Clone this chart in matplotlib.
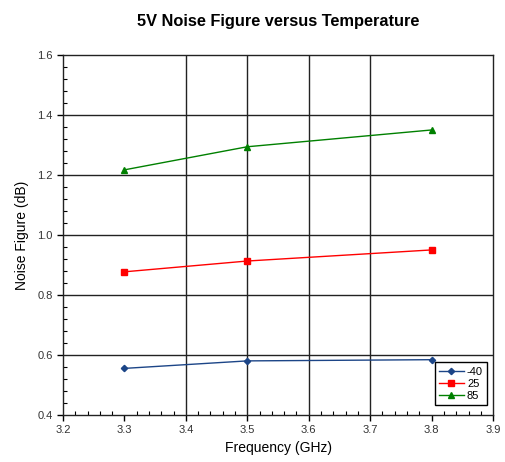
import matplotlib.pyplot as plt
from matplotlib.ticker import MultipleLocator

plt.rcParams['font.family'] = ['Liberation Sans', 'DejaVu Sans']

freq = [3.3, 3.5, 3.8]
nf_m40 = [0.555, 0.580, 0.584]
nf_25 = [0.877, 0.913, 0.950]
nf_85 = [1.217, 1.294, 1.350]
grid_x = [3.4, 3.5, 3.6, 3.7]
grid_y = [0.6, 0.8, 1.0, 1.2, 1.4]

fig = plt.figure(figsize=(5.06, 4.62), dpi=100)
ax = fig.add_axes([0.1245, 0.102, 0.850, 0.779])

for gx in grid_x:
    ax.axvline(gx, color='#222222', linewidth=1.0, zorder=1)
for gy in grid_y:
    ax.axhline(gy, color='#222222', linewidth=1.0, zorder=1)

ax.plot(freq, nf_m40, color='#1c4587', marker='D', markersize=3.2, linewidth=1.0, label='-40', zorder=3)
ax.plot(freq, nf_25, color='#ff0000', marker='s', markersize=5, linewidth=1.0, label='25', zorder=3)
ax.plot(freq, nf_85, color='#008000', marker='^', markersize=5, linewidth=1.0, label='85', zorder=3)

ax.set_xlim(3.2, 3.9)
ax.set_ylim(0.4, 1.6)
ax.xaxis.set_major_locator(MultipleLocator(0.1))
ax.xaxis.set_minor_locator(MultipleLocator(0.02))
ax.yaxis.set_major_locator(MultipleLocator(0.2))
ax.yaxis.set_minor_locator(MultipleLocator(0.04))
ax.xaxis.set_major_formatter(plt.FuncFormatter(lambda v, p: f"{v:.1f}"))
ax.yaxis.set_major_formatter(plt.FuncFormatter(lambda v, p: f"{v:.1f}"))
ax.tick_params(which='major', direction='out', length=4, width=1, labelsize=8, labelcolor='#333333')
ax.tick_params(which='minor', direction='in', length=3, width=0.8)
for s in ax.spines.values():
    s.set_linewidth(1.0)
    s.set_color('#222222')

ax.set_xlabel('Frequency (GHz)', fontsize=10, labelpad=4)
ax.set_ylabel('Noise Figure (dB)', fontsize=10, labelpad=6)
ax.set_title('5V Noise Figure versus Temperature', fontsize=11.8, fontweight='bold', pad=21)

leg = ax.legend(loc='lower right', bbox_to_anchor=(0.992, 0.02), fontsize=8, fancybox=False,
                framealpha=1, edgecolor='black', handlelength=2.2, labelspacing=0.2,
                borderpad=0.4, handletextpad=0.3, borderaxespad=0.2)
leg.get_frame().set_linewidth(1.0)

fig.savefig('out.png', dpi=100)
